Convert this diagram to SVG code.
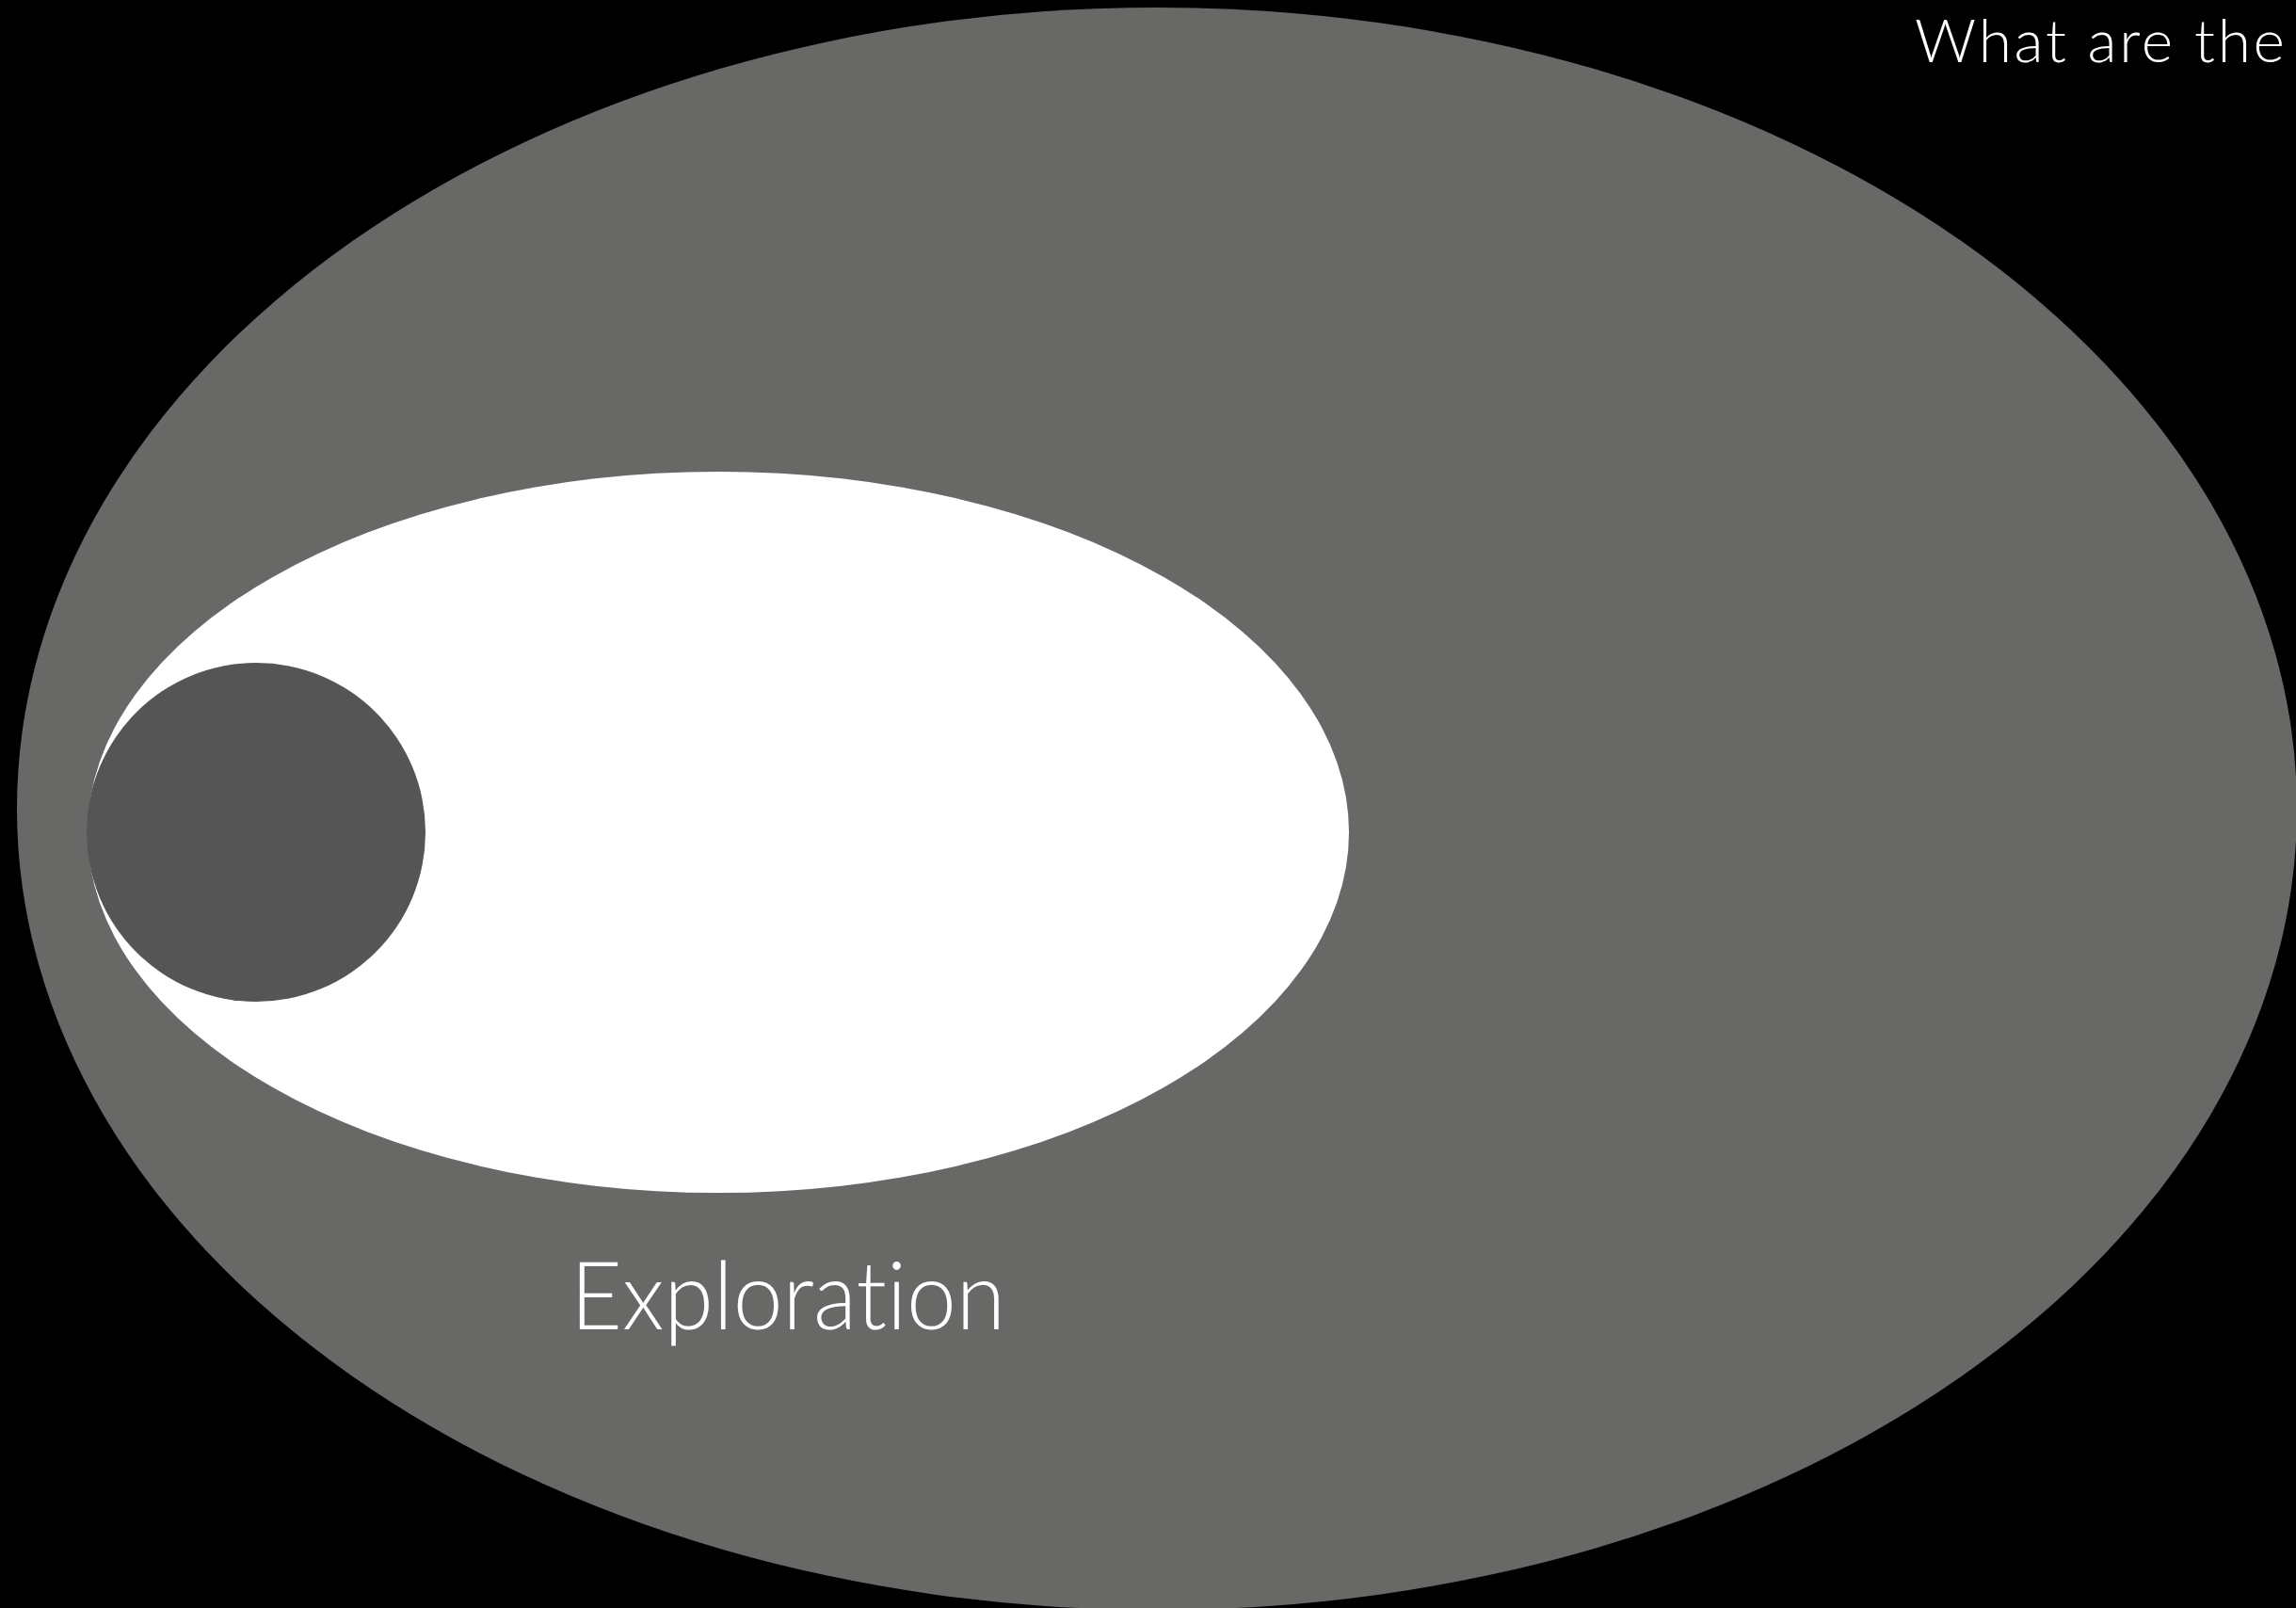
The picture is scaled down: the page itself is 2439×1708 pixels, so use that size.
<svg xmlns="http://www.w3.org/2000/svg" width="2439" height="1708" viewBox="0 0 2439 1708">
<style>
.lbl{fill:#ffffff;font-family:Lato,"Liberation Sans",sans-serif;font-weight:300;font-variant-ligatures:none;font-feature-settings:"liga" 0}
</style>
<rect x="0" y="0" width="2439" height="1708" fill="#000000"/>
<g id="outer"><ellipse cx="1229" cy="859" rx="1211" ry="851" fill="#686866"/></g>
<g id="inner"><ellipse cx="763" cy="884" rx="670" ry="383" fill="#ffffff"/></g>
<g id="core"><circle cx="272" cy="884" r="180" fill="#555555"/></g>
<g id="connectors"></g>
<g id="label-exploration"><text class="lbl" x="606" y="1412" font-size="100" textLength="462" lengthAdjust="spacingAndGlyphs">Exploration</text></g>
<g id="label-title"><text class="lbl" x="2034" y="66" font-size="64" textLength="393" lengthAdjust="spacing">What are the</text></g>
</svg>
